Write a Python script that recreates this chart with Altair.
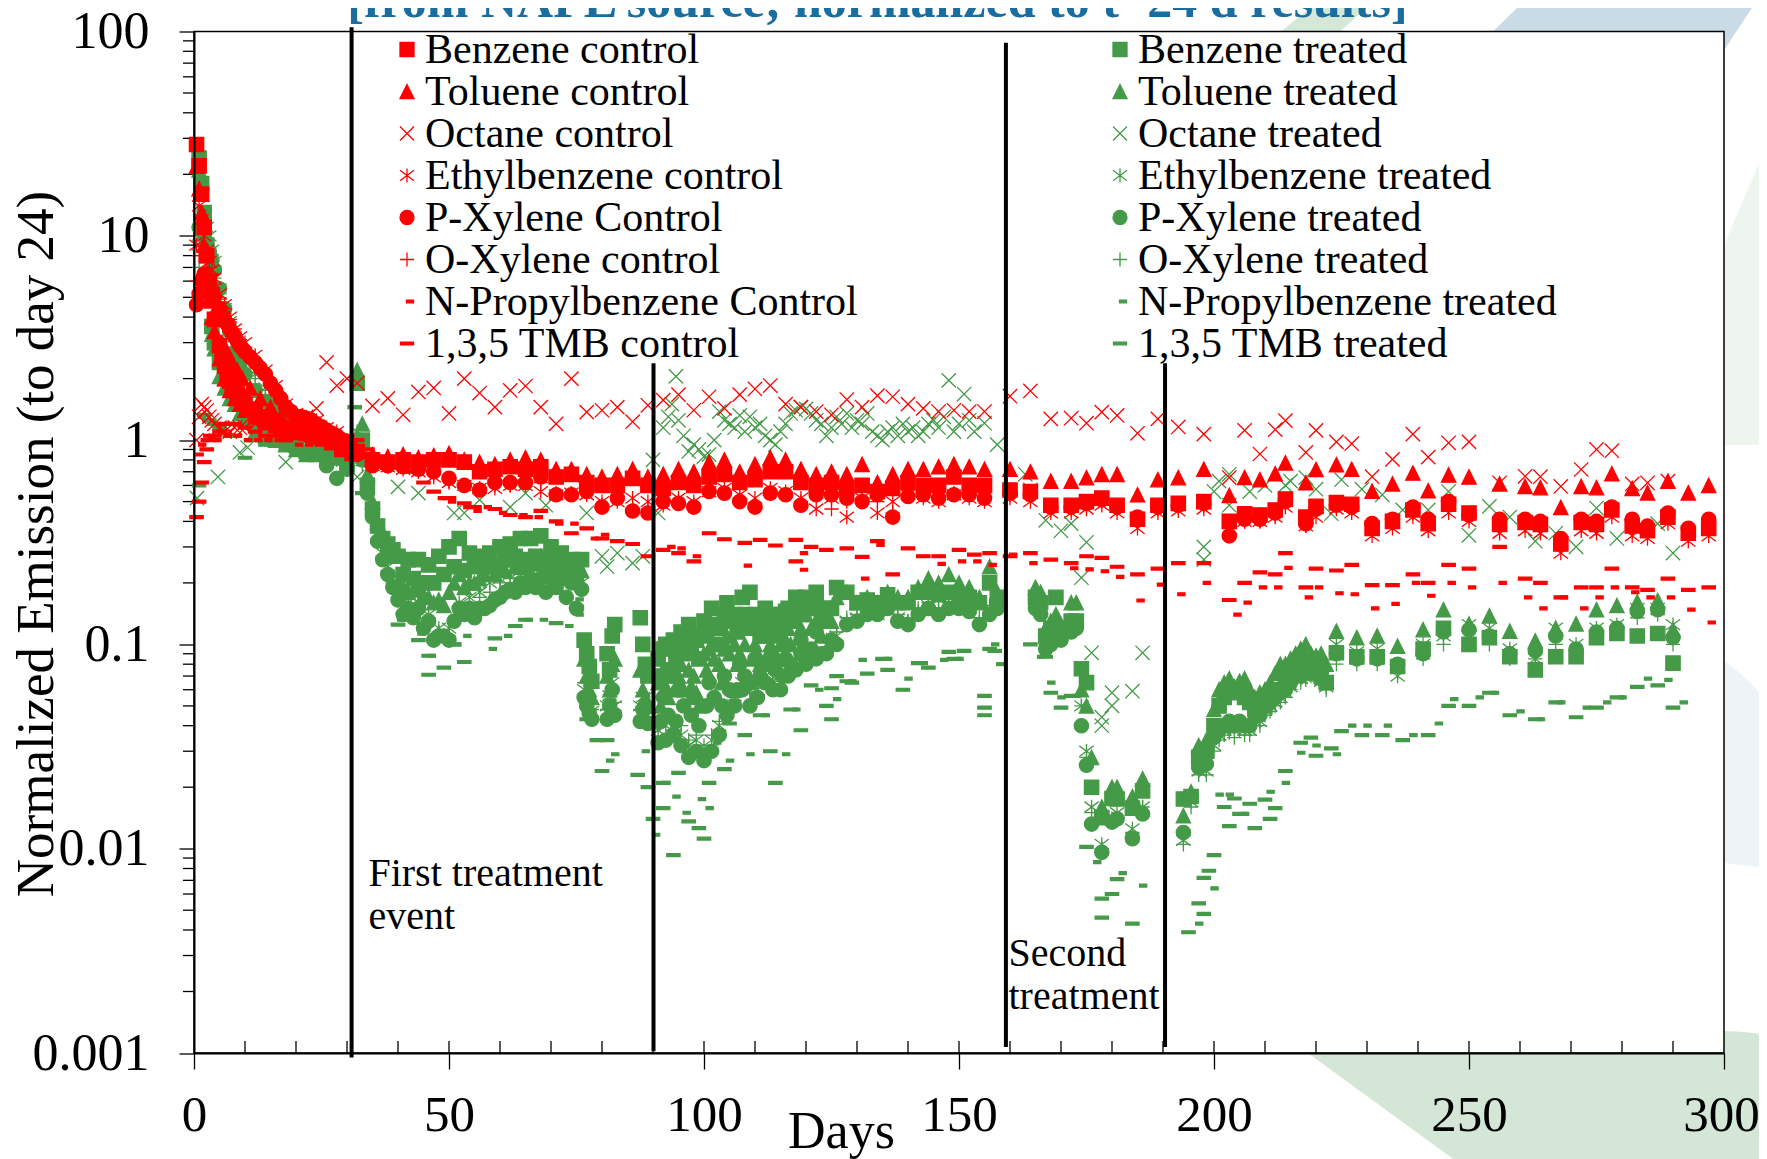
import altair as alt
import pandas as pd

# shared sampling days
C1 = [0.5,1,1.5,2,2.5,3,3.5,4,5,6,7,8,9,10,12,14,16,18,20,22,24,26,28,30,32]
C2 = [35,38,41,44,47,50,53,56,59,62,65,68,71,74,77,80,83,86,89,92,95,98,101,104,107,110,113,116,119,122,125,128,131,134,137,140,143,146,149,152,155]
C3 = [160,164,168,172,175,178,181,185,189,193,198,203,206,209,212,214,218,220,224,227,231,235,239,242,246,250,256,261,264,268,272,275,278,282,285,289,293,297]
CX = [5.5,6.5,7.5,8.5,9.5,11,13,15,17,19,21,23,25,27,29,31]
T1 = [1,1.5,2,2.5,3,3.5,4,5,6,7,8,9,10,12,14,16,18,20,22,24,26,28,30]
T2 = [32,33,34,35,36,37,38,39,40,42,44,46,48,50,52,54,56,58,60,62,64,66,68,70,72,74,76]
T3 = [76.5,77,77.5,78,81,81.5,82,82.5,87.5,88,88.5,89]
T4 = [91,92.5,94,95.5,97,98.5,100,101.5,103,104.5,106,107.5,109,110.5,112,113.5,115,116.5,118,120,122,124,126,128,130,132,134,136,138,140,142,144,146,148,150,152,154,156,157.5]
T5 = [165,166,167,168,169,170,172,173,174,175,176,178,180,181,184,186]
T6 = [194,195.5,197,198.5,200,201,202,203,204,205,206,207,208,209,210,211,212,213,214,215,216,217,218,219,220,221,222,224,228,232,236,241,245,250,254,258,263,267,271,275,279,283,287,290]
T7 = [41,43,45,47,49,51,53,55,57,59,61,63,65,67,69,71,73,75]
T8 = [91.5,93,94.5,96,97.5,99,100.5,102,103.5,105,106.5,108,109.5,111,112.5,114,115.5,117,119,121,123,125]
T9 = [92,95,98,101,104,107,110,113,116,119,122]

# control series
BENZ_C = [[28,22,16,11,8,6,4.8,3.9,2.9,2.3,1.95,1.75,1.6,1.5,1.35,1.25,1.2,1.15,1.12,1.1,1.08,1.05,1.0,.93,.88],
 [.8,.78,.8,.78,.8,.8,.78,.7,.72,.74,.72,.74,.66,.68,.62,.6,.6,.65,.6,.58,.62,.6,.66,.68,.62,.64,.7,.7,.62,.6,.62,.58,.6,.56,.58,.62,.6,.6,.66,.6,.6],
 [.57,.56,.48,.48,.5,.52,.48,.41,.48,.49,.5,.4,.436,.43,.455,.514,.42,.474,.494,.485,.37,.4,.455,.39,.485,.44,.387,.395,.387,.31,.395,.387,.455,.38,.36,.42,.35,.37],
 [2.55,2.1,1.85,1.68,1.55,1.42,1.3,1.22,1.14,1.11,1.09,1.06,1.03,.97,.9,.86]]
TOL_C = [[22,17,13,9,6.5,5,4,3.4,2.5,2.0,1.75,1.6,1.5,1.4,1.3,1.22,1.18,1.12,1.1,1.08,1.06,1.02,.98,.92,.9],
 [.85,.83,.85,.82,.84,.86,.8,.78,.76,.8,.82,.8,.72,.72,.68,.66,.68,.72,.66,.68,.72,.7,.78,.8,.7,.76,.82,.8,.72,.68,.7,.68,.76,.62,.68,.72,.72,.74,.76,.74,.72],
 [.72,.7,.63,.63,.655,.68,.68,.54,.64,.655,.72,.536,.656,.64,.684,.773,.618,.718,.757,.72,.562,.61,.69,.565,.675,.66,.61,.593,.585,.468,.593,.585,.684,.58,.552,.63,.552,.6],
 [3.0,2.7,2.4,2.2,2.0,1.8,1.6,1.45,1.3,1.2,1.15,1.1,1.05,1,.95,.9]]
OCT_C = [[1.0,1.3,1.5,1.45,1.4,1.3,1.25,1.2,1.15,1.1,1.1,1.15,1.15,1.15,1.2,1.2,1.2,1.25,1.3,1.3,1.43,2.4,1.85,2.0,1.9],
 [1.47,1.6,1.33,1.72,1.8,1.35,2.0,1.7,1.45,1.75,1.84,1.45,1.2,2.0,1.37,1.4,1.45,1.23,1.48,1.57,1.67,1.4,1.63,1.43,1.67,1.78,1.85,1.5,1.45,1.38,1.33,1.58,1.45,1.65,1.63,1.5,1.43,1.38,1.4,1.38,1.38],
 [1.64,1.74,1.27,1.28,1.21,1.37,1.32,1.08,1.27,1.16,1.07,.656,1.116,.855,1.125,1.245,.87,1.116,.98,.96,.662,.805,1.07,.825,.97,.98,.618,.665,.662,.593,.718,.9,.887,.61,.618,.63]]
ETH_C = [[9,14,12,10,8.5,7.5,6.8,6.2,5.2,4.6,4.0,3.5,3.2,3.0,2.6,2.2,1.85,1.5,1.35,1.3,1.25,1.15,1.1,1.0,.9],
 [.75,.74,.72,.7,.66,.62,.6,.58,.58,.6,.6,.56,.54,.55,.54,.5,.5,.52,.5,.48,.52,.5,.56,.58,.54,.52,.58,.56,.52,.46,.52,.42,.52,.44,.5,.54,.52,.5,.54,.52,.5],
 [.52,.5,.44,.44,.46,.48,.44,.37,.44,.45,.46,.36,.4,.4,.42,.47,.38,.42,.46,.44,.34,.37,.42,.36,.44,.4,.35,.36,.35,.28,.36,.35,.42,.34,.33,.39,.32,.34]]
PX_C = [[4.6,5.2,6,6.5,6.2,5.8,5.4,5,4.4,3.9,3.5,3.2,2.9,2.7,2.4,2.1,1.75,1.45,1.3,1.28,1.2,1.12,1.05,.95,.85],
 [.75,.75,.74,.72,.7,.65,.6,.57,.62,.62,.62,.66,.54,.54,.56,.47,.52,.45,.44,.5,.49,.47,.56,.55,.5,.47,.55,.54,.48,.54,.54,.52,.5,.54,.42,.53,.54,.52,.54,.54,.52],
 [.55,.54,.47,.47,.49,.51,.47,.42,.47,.48,.49,.34,.41,.41,.44,.5,.39,.46,.48,.47,.39,.41,.47,.41,.5,.43,.41,.41,.4,.33,.41,.4,.47,.41,.38,.44,.37,.41],
 [4.1,3.7,3.35,3.05,2.8,2.55,2.25,1.9,1.6,1.38,1.3,1.25,1.16,1.08,1.0,.9]]
OX_C = [[6,8,9,8.5,7.5,7,6.5,5.8,4.9,4.4,3.9,3.5,3.1,2.8,2.45,2.05,1.75,1.5,1.35,1.25,1.2,1.12,1.05,.95,.88],
 [.77,.76,.75,.73,.68,.63,.6,.58,.6,.6,.62,.62,.55,.55,.55,.48,.52,.46,.46,.5,.5,.48,.56,.56,.52,.48,.56,.54,.5,.54,.46,.5,.52,.5,.44,.54,.54,.52,.55,.54,.52],
 [.54,.53,.46,.46,.48,.5,.46,.4,.46,.47,.48,.35,.4,.4,.43,.49,.38,.45,.47,.46,.36,.39,.44,.38,.47,.42,.38,.38,.38,.3,.38,.37,.44,.37,.35,.41,.34,.36]]
NP_C_DAYS = [0.5,1,1.5,2,3,4,6,8,10,12,14,16,18,20,22,24,26,28,30,32,48,50,53,55,57,60,64,67,71,74,78,80,93,95,98,108,119,119,131,134,146,150,153,156,160,164,172,175,178,181,185,189,193,198,204,206,209,212,214,218,220,224,227,231,235,239,242,246,250,256,261,264,268,272,275,278,282,285,289,293,297]
NP_C = [.85,.95,1.0,1.05,1.05,1.0,1.05,1.05,1.0,1.0,1.0,1.0,1.0,.95,.95,.95,.95,.95,.92,.88,.52,.5,.47,.45,.47,.44,.43,.42,.39,.39,.33,.344,.3,.295,.27,.243,.28,.232,.21,.307,.248,.255,.255,.245,.275,.25,.236,.233,.228,.214,.164,.196,.176,.2,.14,.16,.19,.19,.237,.17,.19,.178,.176,.15,.158,.2,.173,.2,.19,.2,.17,.15,.17,.15,.17,.19,.18,.17,.17,.148,.128]
TMB_C_DAYS = [0.5,1,1.5,2,2.5,3,4,5,6,8,10,12,14,16,18,20,22,24,26,28,30,32,34,36,39,42,45,47,50,53,55,59,62,65,68,71,74,77,80,83,86,89,92,95,98,101,104,108,111,114,118,118,121,124,128,131,134,137,140,143,146,150,153,156,160,164,168,172,175,178,181,185,189,193,198,203,206,209,212,214,218,220,224,227,231,235,239,242,246,250,256,261,264,268,272,275,278,282,285,289,293,297]
TMB_C = [.42,.5,.62,.78,.9,1,1.05,1.1,1.2,1.2,1.15,1.1,1.05,1.05,1.0,1.1,1.1,1.1,1.05,1.05,1.05,1,.9,.78,.74,.7,.62,.56,.52,.49,.47,.46,.43,.42,.45,.4,.35,.37,.33,.32,.31,.27,.29,.28,.255,.35,.327,.314,.325,.305,.325,.255,.3,.29,.295,.268,.32,.22,.295,.27,.27,.29,.275,.28,.27,.28,.26,.25,.27,.265,.24,.22,.235,.25,.25,.165,.2,.225,.22,.28,.19,.235,.23,.245,.195,.195,.22,.2,.245,.235,.3,.21,.2,.17,.19,.19,.235,.19,.185,.21,.185,.19]

# treated series
BENZ_T = [[24,18,13,9,6,3.6,3,2.4,2,1.9,1.7,1.5,1.4,1.25,1.15,1.05,1,.95,.88,.88,.85,.82,.75],
 [1.9,1.0,.6,.46,.38,.33,.31,.29,.27,.26,.26,.245,.27,.3,.33,.28,.27,.28,.3,.31,.33,.33,.34,.3,.28,.26,.26],
 [.105,.09,.078,.066,.09,.075,.11,.125,.135,.1,.08,.07],
 [.085,.1,.105,.115,.125,.105,.13,.15,.12,.16,.14,.17,.18,.13,.15,.14,.14,.15,.17,.17,.18,.15,.19,.18,.16,.165,.16,.175,.16,.16,.18,.18,.175,.18,.17,.17,.16,.2,.17],
 [.17,.16,.11,.12,.17,.12,.13,.13,.076,.065,.02,.0142,.0176,.0175,.0158,.0192],
 [.0175,.018,.028,.03,.04,.05,.055,.058,.06,.06,.055,.052,.05,.051,.05,.055,.06,.06,.068,.07,.075,.081,.08,.08,.075,.07,.065,.091,.087,.087,.078,.095,.12,.1,.108,.087,.075,.087,.087,.108,.113,.11,.113,.081],
 [.22,.21,.2,.2,.22,.24,.23,.24,.25,.24,.26,.27,.26,.27,.26,.25,.24,.22],
 [.07,.075,.085,.09,.1,.085,.11,.125,.1,.13,.115,.14,.12,.11,.12,.115,.12,.13,.14,.15,.13,.15],
 [.095,.1,.11,.12,.14,.13,.14,.135,.145,.16,.16]]
TOL_T = [[21,16,11,8,5,3.3,2.8,2.05,1.8,1.6,1.5,1.35,1.25,1.1,1.05,1,.95,.9,.85,.85,.85,.82,.8],
 [2.2,1.2,.68,.5,.4,.35,.3,.27,.2,.18,.19,.17,.165,.18,.22,.2,.21,.24,.25,.26,.26,.27,.27,.26,.25,.25,.23],
 [.085,.07,.06,.055,.07,.06,.08,.085,.075,.06,.055,.05],
 [.065,.062,.07,.08,.075,.058,.09,.1,.08,.11,.1,.12,.12,.09,.11,.11,.1,.12,.13,.14,.16,.14,.17,.18,.16,.17,.16,.18,.17,.17,.19,.21,.2,.22,.2,.19,.17,.24,.18],
 [.19,.18,.12,.13,.14,.125,.16,.16,.06,.05,.028,.016,.02,.02,.018,.022],
 [.0145,.019,.032,.034,.048,.06,.065,.068,.062,.066,.068,.06,.055,.058,.06,.065,.072,.08,.08,.085,.09,.095,.1,.09,.088,.09,.08,.116,.108,.11,.098,.118,.148,.126,.138,.116,.104,.12,.126,.148,.155,.162,.164,.118],
 [.19,.185,.175,.16,.155,.2,.19,.2,.22,.22,.23,.24,.24,.25,.24,.24,.22,.21],
 [.05,.055,.06,.06,.062,.05,.075,.085,.065,.09,.08,.1,.085,.08,.09,.09,.085,.1,.11,.12,.11,.13],
 [.075,.07,.07,.095,.095,.09,.1,.1,.105,.12,.13]]
ETH_T = [[9,10,11,11,10,8.5,7.5,5.5,4.4,3.8,3.2,2.8,2.5,2.1,1.8,1.55,1.35,1.2,1.1,1,.95,.85,.8],
 [1.1,.85,.6,.44,.34,.28,.24,.21,.18,.16,.16,.14,.12,.12,.16,.17,.18,.2,.21,.22,.23,.24,.24,.23,.23,.22,.2],
 [.06,.055,.05,.047,.05,.056,.065,.05,.05,.055,.055,.045],
 [.038,.04,.04,.036,.032,.034,.03,.034,.04,.05,.056,.065,.06,.06,.07,.066,.065,.075,.08,.085,.09,.1,.11,.13,.135,.145,.14,.15,.135,.13,.145,.155,.145,.155,.15,.15,.13,.15,.155],
 [.16,.15,.1,.11,.12,.11,.125,.13,.05,.03,.016,.0105,.014,.015,.0125,.016],
 [.011,.017,.024,.024,.032,.036,.038,.04,.038,.04,.038,.038,.042,.042,.048,.05,.052,.055,.058,.062,.068,.068,.07,.072,.07,.066,.062,.1,.092,.095,.07,.1,.11,.125,.12,.095,.085,.12,.1,.12,.125,.15,.15,.125]]
PX_T = [[11,10.5,10,9.2,8.4,7.6,6.8,5.5,4.4,3.4,2.7,2.35,2.1,1.75,1.55,1.45,1.25,1.15,1.05,.95,.75,.65,.72],
 [1.0,.8,.55,.42,.32,.26,.22,.19,.165,.15,.15,.13,.11,.105,.15,.15,.15,.155,.17,.186,.2,.21,.21,.21,.21,.2,.186],
 [.055,.05,.046,.043,.043,.05,.06,.045,.042,.048,.05,.041],
 [.033,.034,.036,.032,.028,.03,.027,.03,.036,.045,.05,.06,.05,.055,.065,.06,.06,.07,.075,.08,.085,.09,.1,.125,.13,.14,.14,.15,.13,.125,.14,.15,.14,.15,.15,.145,.125,.14,.15],
 [.15,.14,.095,.1,.11,.105,.115,.12,.04,.0256,.0132,.0096,.0135,.014,.0112,.0148],
 [.012,.018,.025,.026,.035,.038,.04,.042,.04,.042,.04,.04,.045,.045,.05,.052,.055,.058,.06,.065,.07,.07,.072,.075,.072,.068,.065,.09,.085,.085,.08,.09,.115,.118,.11,.09,.093,.11,.095,.115,.12,.145,.148,.108],
 [.14,.135,.12,.105,.11,.13,.14,.135,.15,.165,.18,.18,.19,.19,.18,.19,.17,.15],
 [.042,.045,.042,.05,.045,.04,.05,.055,.05,.06,.06,.07,.065,.07,.08,.075,.07,.08,.09,.095,.09,.105],
 [.055,.06,.055,.065,.07,.08,.085,.085,.085,.105,.115]]
OX_T = [[7,8,8.5,8.5,8,7.2,6.2,5,4.3,3.7,3.1,2.7,2.4,2,1.75,1.5,1.3,1.15,1.05,.98,.9,.8,.75],
 [.9,.75,.55,.42,.33,.27,.23,.2,.17,.155,.155,.135,.115,.11,.15,.16,.17,.18,.2,.21,.22,.22,.22,.22,.22,.21,.19],
 [.065,.058,.052,.048,.048,.054,.06,.052,.048,.05,.052,.044],
 [.04,.042,.038,.04,.034,.036,.032,.036,.042,.048,.055,.062,.058,.062,.068,.064,.066,.072,.08,.088,.092,.105,.115,.135,.14,.148,.145,.155,.14,.13,.15,.16,.15,.16,.155,.15,.135,.155,.16],
 [.155,.145,.1,.105,.115,.11,.12,.125,.05,.028,.015,.01,.014,.014,.012,.016],
 [.0105,.016,.023,.023,.03,.034,.036,.037,.035,.038,.036,.036,.04,.04,.045,.047,.05,.052,.055,.06,.065,.065,.067,.07,.068,.064,.06,.08,.08,.08,.073,.085,.1,.1,.1,.085,.085,.1,.09,.11,.115,.135,.14,.1]]
OCT_T_DAYS = [0.6,4.7,9,10.5,18,32,40,44,51,53,56,62,65,69,77,80,81,83,86,88,90,91,92,93.7,94.5,97,100,103,107,110,114,120,125,130,136,141,148,151,155,157.5,163,164,167,170,172,174,175,176,178,178,180,180,184,186,198,198,200,201,203,203,207,210,214,215,218,220,223,225,229,233,237,242,246,250,254,258,263,267,271,275,279,283,287,290]
OCT_T = [.52,.66,.87,.92,.78,.66,.59,.55,.44,.44,.51,.47,.55,.48,.44,.27,.24,.28,.25,.27,.8,.44,1.15,1.5,2.05,.88,.83,1.38,1.32,1.15,.95,1.42,1.15,1.25,1.1,1.15,1.96,1.68,1.21,.95,.68,.57,.405,.36,.39,.212,.316,.091,.044,.04,.058,.05,.059,.091,.3,.26,.56,.63,.68,.48,.56,.6,.6,.63,.656,.575,.436,.64,.575,.54,.455,.455,.56,.342,.474,.42,.32,.35,.3,.465,.33,.36,.39,.28]
OCT_T_DAYS2 = [93,95,96,98,99,101,102,104,105,106,108,109,111,112,113,115,116,117,118,119,121,122,123,124,126,127,128,129,131,132,133,134,135,137,138,139,140,142,143,144,145,146,147,149,150,152,153]
OCT_T2 = [1.3,1.25,1.05,.95,.9,.85,1.0,1.25,1.2,1.15,1.1,1.3,1.2,1.05,1.0,1.1,1.2,1.35,1.4,1.45,1.35,1.25,1.2,1.05,1.3,1.2,1.35,1.15,1.2,1.35,1.1,1.05,1.0,1.15,1.05,1.2,1.1,1.05,1.1,1.2,1.25,1.15,1.3,1.1,1.2,1.25,1.1]
NP_T_DAYS = [1,2,3,4,5,6,8,10,14,18,22,26,31.5,40,44,46,51,53,58,61,65,68,73,75,75,77.5,81,82,88,90,92,94,96,99,100.5,102,104.5,108.5,111.5,115.5,117.5,122,125.5,128.5,130.5,135.5,139.5,142.5,146.5,149.5,156.5,157.5,165.5,167.5,169.5,172.5,176.5,181.5,185.5,196.5,199.5,200.5,202.5,205.5,210.5,213.5,216.5,219.5,223.5,226.5,229.5,233.5,238.5,243.5,246.5,251.5,254.5,259.5,263.5,267.5,272.5,276.5,279.5,284.5,288.5,291.5]
NP_T = [1.3,1.25,1.2,1.15,1.1,1.1,1.05,1.0,.95,.9,.85,.82,1.45,.132,.113,.088,.1,.11,.095,.11,.132,.132,.123,.166,.14,.043,.027,.029,.03,.0117,.021,.018,.015,.0175,.0158,.033,.027,.029,.045,.029,.048,.06,.054,.066,.084,.085,.068,.081,.084,.085,.1,.08,.087,.065,.055,.056,.0086,.0076,.0066,.0043,.0064,.0184,.0184,.0148,.019,.021,.0295,.032,.029,.04,.04,.04,.036,.041,.054,.055,.058,.047,.043,.052,.049,.052,.055,.068,.067,.052]
TMB_T_DAYS = [1,2,3,4,5,6,7,8,10,12,14,16,18,20,22,24,26,28,31.5,33,40,44,46,46,49,53,51,59,63,65,71,75,77,79,80,81,87,89,90,92,92,94,95,97,99,100,101,104,105,108,111,113,114,117,119,121,124,125,125,126,128,129,132,135,136,139,142,144,148,149,151,155,155,155,156,157,164,167,168,170,172,175,178,178,180,181,184,195,197,198,198,199,200,202,203,204,205,207,208,210,211,212,214,217,219,220,223,225,229,233,237,242,246,250,254,258,263,267,271,275,279,283,287,290]
TMB_T = [.6,1.33,1.25,1.2,1.15,1.1,1.05,1.05,.82,1.0,.95,.95,.9,.88,.85,.85,.82,.8,1.45,.55,.125,.105,.071,.088,.077,.082,.1,.107,.123,.132,.127,.153,.043,.034,.024,.034,.023,.02,.014,.0158,.021,.0093,.0235,.0136,.0126,.0112,.021,.0245,.041,.036,.045,.03,.021,.048,.038,.063,.05,.061,.043,.07,.066,.065,.072,.085,.075,.06,.081,.077,.092,.085,.093,.056,.049,.045,.095,.093,.1,.087,.058,.049,.056,.0102,.0057,.0046,.006,.0071,.0043,.0039,.0054,.0048,.0072,.0078,.0093,.016,.0129,.0176,.0148,.0166,.0126,.0174,.014,.0158,.024,.033,.035,.0285,.031,.0376,.036,.036,.034,.036,.05,.05,.058,.045,.043,.052,.044,.049,.055,.062,.063,.049]

SERIES = ["Benzene control","Toluene control","Octane control","Ethylbenzene control","P-Xylene Control","O-Xylene control","N-Propylbenzene Control","1,3,5 TMB control",
          "Benzene treated","Toluene treated","Octane treated","Ethylbenzene treated","P-Xylene treated","O-Xylene treated","N-Propylbenzene treated","1,3,5 TMB treated"]
SQ = "M-1,-1H1V1H-1Z"
TR = "M0,-1L1,1H-1Z"
XX = "M-1,-1L1,1M1,-1L-1,1"
AS = "M-1,-.75L1,.75M1,-.75L-1,.75M0,-1V1"
PL = "M-1,0H1M0,-1V1"
SD = "M-.07,-.2H.93V.2H-.07Z"
LD = "M-.93,-.2H.93V.2H-.93Z"
SHAPES = [SQ,TR,XX,AS,"circle",PL,SD,LD]*2
RED, GREEN = "#ff0000", "#459a48"
STROKES = [RED]*8+[GREEN]*8
FILLS = [RED,RED,"transparent","transparent",RED,"transparent",RED,RED,
         GREEN,GREEN,"transparent","transparent",GREEN,"transparent",GREEN,GREEN]

rows = []
def add(name, grids, vals):
    for g, v in zip(grids, vals):
        for d, y in zip(g, v):
            rows.append({"Series": name, "day": d, "value": y})
TG = [T1,T2,T3,T4,T5,T6,T7,T8,T9]
CG = [C1,C2,C3,CX]
# treated are painted first, the control series lie over them
add("Benzene treated", TG, BENZ_T)
add("Toluene treated", TG, TOL_T)
add("Octane treated", [OCT_T_DAYS,OCT_T_DAYS2], [OCT_T,OCT_T2])
add("Ethylbenzene treated", TG, ETH_T)
add("P-Xylene treated", TG, PX_T)
add("O-Xylene treated", TG, OX_T)
add("N-Propylbenzene treated", [NP_T_DAYS], [NP_T])
add("1,3,5 TMB treated", [TMB_T_DAYS], [TMB_T])
add("Benzene control", CG, BENZ_C)
add("Toluene control", CG, TOL_C)
add("Octane control", CG, OCT_C)
add("Ethylbenzene control", CG, ETH_C)
add("P-Xylene Control", CG, PX_C)
add("O-Xylene control", CG, OX_C)
add("N-Propylbenzene Control", [NP_C_DAYS], [NP_C])
add("1,3,5 TMB control", [TMB_C_DAYS], [TMB_C])
df = pd.DataFrame(rows)

W, H = 1530, 1021.5
FONT = "Liberation Serif"
sx = alt.Scale(domain=[0,300], nice=False, zero=False)
sy = alt.Scale(type="log", domain=[0.001,100], nice=False)
AX = alt.Axis(values=[0,50,100,150,200,250,300], title="Days", titleFont=FONT, titleFontSize=52,
        titleFontWeight="normal", titleColor="black", titleX=647, titleY=94, titleBaseline="alphabetic",
        labelFont=FONT, labelFontSize=51, labelColor="black", labelPadding=21, tickSize=16, tickColor="black",
        labelOffset={"condition":{"test":"datum.value===300","value":-3},"value":0},
        tickWidth=1.3, domainColor="black", domainWidth=2, grid=False, labelFlush=False, labelOverlap=False, format="d", zindex=1)
AY = alt.Axis(values=[0.001,0.01,0.1,1,10,100], title="Normalized Emission (to day 24)", titleFont=FONT,
        titleFontSize=53, titleFontWeight="normal", titleColor="black", titleX=-131, titleY=512, titleAnchor="middle", titleAngle=270,
        labelFont=FONT, labelFontSize=52, labelColor="black", labelPadding=30, tickSize=15, tickColor="black", tickWidth=1.3,
        domainColor="black", domainWidth=2, grid=False, format="~g", labelOverlap=False, labelFlush=False, zindex=1)
X = lambda f: alt.X(f, scale=sx, axis=AX)
Y = lambda f: alt.Y(f, scale=sy, axis=AY)

legend = alt.Legend(title=None, orient="none", legendX=192, legendY=-3, columns=2, gridAlign="all",
                    columnPadding=241, rowPadding=0, symbolSize=196, symbolStrokeWidth=1.3, symbolOpacity=1,
                    labelFont=FONT, labelFontSize=42, labelColor="black", labelLimit=800, labelOffset={"expr":"-3"},
                    padding=0)

# page decoration behind the plot (days, value, value2)
BG_BLUE = pd.DataFrame({"d":[254.7,261,300,306.5],"a":[100,100,81,142.6],"b":[100,142.6,142.6,142.6]})
BG_GREEN_TOP = pd.DataFrame({"d":[213.1,220.8,224.7,231.6],"a":[100,100,100,142.6],"b":[100,142.6,142.6,142.6]})
BG_GREEN_R = pd.DataFrame({"d":[300,308.4],"a":[.946,.946],"b":[9.0,27.8]})
BG_BLUE_R = pd.DataFrame({"d":[300,303.6,308.4],"a":[.0085,.0083,.0081],"b":[.083,.0708,.0535]})
BG_GREEN_B = pd.DataFrame({"d":[218.4,246.9,300,303.6,308.4],"a":[.001,.000303,.000303,.000303,.000303],"b":[.00128,.00128,.00128,.00127,.00123]})
def bg(d, col):
    return alt.Chart(d).mark_area(color=col, opacity=1, interpolate="linear", clip=False).encode(x=X("d:Q"), y=Y("a:Q"), y2="b:Q")

plot_box = pd.DataFrame({"d":[0],"d2":[300],"a":[0.001],"b":[100]})
white = alt.Chart(plot_box).mark_rect(fill="white").encode(x=X("d:Q"), x2="d2:Q", y=Y("a:Q"), y2="b:Q")
frame = alt.Chart(plot_box).mark_rect(fillOpacity=0, stroke="black", strokeWidth=1.5).encode(x=X("d:Q"), x2="d2:Q", y=Y("a:Q"), y2="b:Q")

# minor ticks
Y_MINOR = [m*10**e for e in (-3,-2,-1,0,1) for m in (2,3,4,5,6,7,8,9)]
X_INSIDE = list(range(10,300,10))
ymin = alt.Chart(pd.DataFrame({"v":Y_MINOR})).mark_rule(color="black", strokeWidth=1.3).encode(
    y=Y("v:Q"), x=alt.value(-11), x2=alt.value(0))
xin = alt.Chart(pd.DataFrame({"d":X_INSIDE})).mark_rule(color="black", strokeWidth=1.3).encode(
    x=X("d:Q"), y=alt.value(H-12), y2=alt.value(H))

# treatment bars
BAR_DAY = [30.9,90.1,159.2,190.4]
BAR_LOW = [.00095,.00102,.00107,.00107]
BAR_HIGH = [105,2.38,88,2.38]
bars = alt.Chart(pd.DataFrame({"d":BAR_DAY,"a":BAR_LOW,"b":BAR_HIGH})).mark_rule(color="black", strokeWidth=4, clip=False).encode(
    x=X("d:Q"), y=Y("a:Q"), y2="b:Q")

NOTE_TXT = ["First treatment","event","Second","treatment"]
NOTE_DAY = [34.2,34.2,159.7,159.7]
NOTE_VAL = [.00656,.00404,.00266,.00164]
notes = alt.Chart(pd.DataFrame({"t":NOTE_TXT,"d":NOTE_DAY,"v":NOTE_VAL})).mark_text(
    font=FONT, fontSize=40, align="left", baseline="alphabetic", color="black").encode(x=X("d:Q"), y=Y("v:Q"), text="t:N")

title = alt.Chart(pd.DataFrame({"t":["[from NAPL source; normalized to t=24 d results]"],"d":[134],"v":[117.8]})).mark_text(
    font=FONT, fontSize=50, fontWeight="bold", align="center", baseline="alphabetic", color="#1a6d9f", clip=False).encode(
    x=X("d:Q"), y=Y("v:Q"), text="t:N")

points = alt.Chart(df).mark_point(filled=False, opacity=1, strokeWidth=1.3, size=205, clip=False).encode(
    x=X("day:Q"),
    y=Y("value:Q"),
    shape=alt.Shape("Series:N", sort=None, scale=alt.Scale(domain=SERIES, range=SHAPES), legend=legend),
    stroke=alt.Stroke("Series:N", sort=None, scale=alt.Scale(domain=SERIES, range=STROKES), legend=legend),
    fill=alt.Fill("Series:N", sort=None, scale=alt.Scale(domain=SERIES, range=FILLS), legend=legend),
)

chart = alt.layer(
    bg(BG_BLUE,"#c9dbe7"), bg(BG_GREEN_TOP,"#d5e8d7"), bg(BG_GREEN_R,"#eef5ee"), bg(BG_BLUE_R,"#eef3f7"), bg(BG_GREEN_B,"#d4e7d6"),
    white, frame, ymin, xin, points, bars, notes, title
).properties(
    width=W, height=H,
    padding={"left":186,"top":23.5,"right":35,"bottom":106},
    autosize=alt.AutoSizeParams(type="none"),
    background="white",
).configure_view(stroke=None)

chart.save("out.html", embed_options={"renderer":"svg","actions":False})
